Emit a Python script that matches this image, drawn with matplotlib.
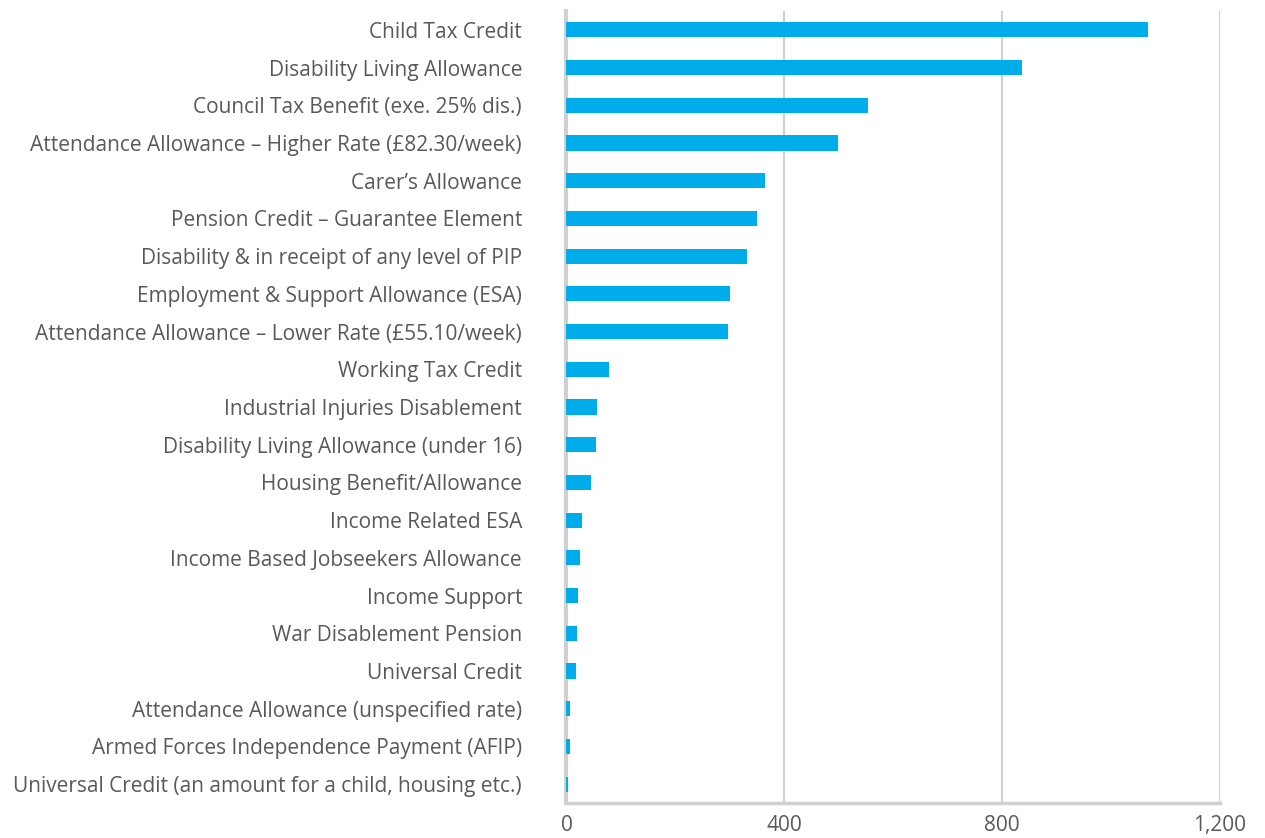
import matplotlib.pyplot as plt
import matplotlib
from matplotlib import ticker

# Data
categories = [
    "Child Tax Credit",
    "Disability Living Allowance",
    "Council Tax Benefit (exe. 25% dis.)",
    "Attendance Allowance \u2013 Higher Rate (\u00a382.30/week)",
    "Carer\u2019s Allowance",
    "Pension Credit \u2013 Guarantee Element",
    "Disability & in receipt of any level of PIP",
    "Employment & Support Allowance (ESA)",
    "Attendance Allowance \u2013 Lower Rate (\u00a355.10/week)",
    "Working Tax Credit",
    "Industrial Injuries Disablement",
    "Disability Living Allowance (under 16)",
    "Housing Benefit/Allowance",
    "Income Related ESA",
    "Income Based Jobseekers Allowance",
    "Income Support",
    "War Disablement Pension",
    "Universal Credit",
    "Attendance Allowance (unspecified rate)",
    "Armed Forces Independence Payment (AFIP)",
    "Universal Credit (an amount for a child, housing etc.)",
]
values = [1067, 837, 553, 498, 364, 349, 331, 301, 297, 78, 56, 54, 45,
          28, 25, 21, 20, 17, 7, 7, 3]
x_ticks = [0, 400, 800, 1200]

# Styles
BAR_COLOR  = "#00ADEA"
TEXT_COLOR = "#595959"
GRID_COLOR = "#D0D0D0"
FONT_SIZE  = 15

matplotlib.rcParams['font.family'] = ['Open Sans', 'DejaVu Sans']

fig = plt.figure(figsize=(12.65, 8.38), dpi=100)
ax = fig.add_axes([0.4478, 0.0418, 0.9644 - 0.4478, 0.9869 - 0.0418])

y = list(range(len(categories)))
ax.barh(y, values, height=0.4, color=BAR_COLOR, zorder=3)

ax.set_ylim(len(categories) - 0.5, -0.5)
ax.set_yticks(y)
ax.set_yticklabels(categories, fontsize=FONT_SIZE, color=TEXT_COLOR)

ax.set_xlim(0, 1200)
ax.set_xticks(x_ticks)
ax.xaxis.set_major_formatter(ticker.FuncFormatter(lambda v, p: f"{int(v):,}"))
ax.tick_params(axis='x', length=0, pad=9, labelsize=FONT_SIZE, labelcolor=TEXT_COLOR)
ax.tick_params(axis='y', length=0, pad=32)

ax.grid(axis='x', color=GRID_COLOR, linewidth=1.5, zorder=0)
ax.spines['top'].set_visible(False)
ax.spines['right'].set_visible(False)
ax.spines['left'].set_color(GRID_COLOR)
ax.spines['left'].set_linewidth(3)
ax.spines['bottom'].set_color(GRID_COLOR)
ax.spines['bottom'].set_linewidth(2.5)

plt.savefig("out.png", dpi=100)
